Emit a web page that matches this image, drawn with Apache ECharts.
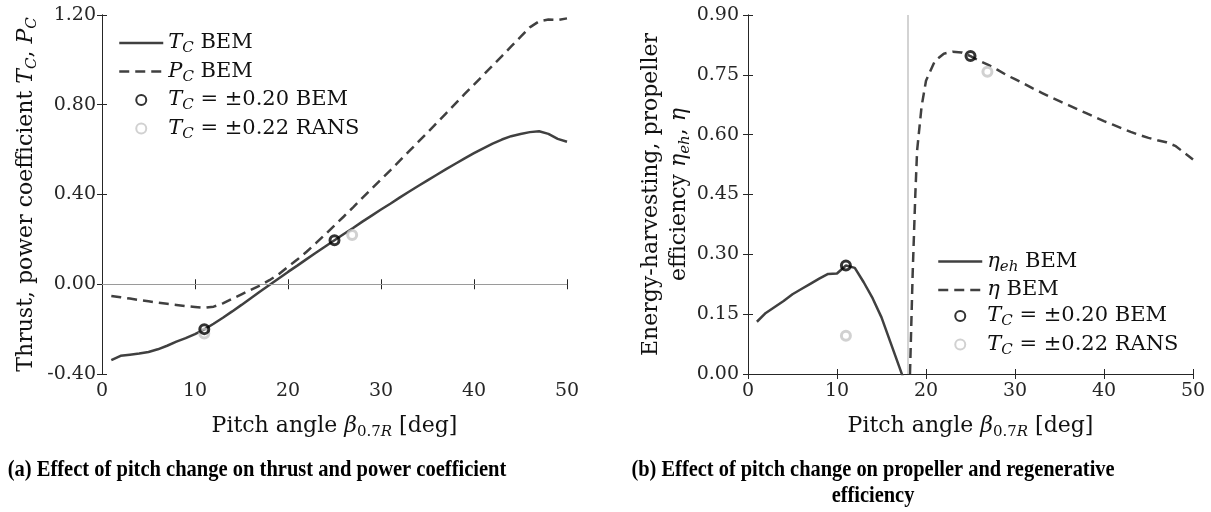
<!DOCTYPE html>
<html><head><meta charset="utf-8">
<script src="https://cdn.jsdelivr.net/npm/echarts@6/dist/echarts.min.js"></script>
<style>html,body{margin:0;padding:0;background:#fff}#c{width:1211px;height:512px}</style>
</head><body><div id="c"></div>
<script>
// ---------- data ----------
const pitchA = [1,2,3,4,5,6,7,8,9,10,11,12,13,14,15,16,17,18,19,20,21,22,23,24,25,26,27,28,29,30,31,32,33,34,35,36,37,38,39,40,41,42,43,44,45,46,47,48,49,50];
const tcBEM = [-0.338,-0.319,-0.314,-0.309,-0.302,-0.290,-0.274,-0.256,-0.240,-0.222,-0.201,-0.176,-0.149,-0.121,-0.092,-0.062,-0.032,-0.003,0.026,0.055,0.083,0.112,0.140,0.168,0.196,0.224,0.251,0.279,0.306,0.333,0.359,0.386,0.412,0.438,0.463,0.488,0.513,0.537,0.561,0.584,0.606,0.627,0.645,0.660,0.670,0.678,0.682,0.670,0.648,0.635];
const pcBEM = [-0.052,-0.058,-0.064,-0.070,-0.076,-0.082,-0.087,-0.092,-0.097,-0.101,-0.105,-0.100,-0.085,-0.065,-0.045,-0.025,-0.005,0.018,0.045,0.078,0.110,0.145,0.183,0.222,0.262,0.302,0.343,0.385,0.426,0.467,0.508,0.550,0.592,0.634,0.676,0.719,0.762,0.805,0.848,0.890,0.932,0.975,1.017,1.060,1.102,1.145,1.172,1.180,1.178,1.185];
const markA_BEM_x = [11, 25];
const markA_BEM_y = [-0.200, 0.196];
const markA_RANS_x = [11, 26.9];
const markA_RANS_y = [-0.220, 0.219];

const pitchEh = [1,2,3,4,5,6,7,8,9,10,11,12,13,14,15,16,17,18];
const etaEh = [0.131,0.153,0.168,0.183,0.200,0.213,0.226,0.239,0.251,0.252,0.272,0.266,0.230,0.190,0.142,0.080,0.018,-0.045];
const pitchEta = [18.2,18.5,18.8,19,19.5,20,21,22,23,24,25,26,27,28,29,30,31,32,33,34,35,36,37,38,39,40,41,42,43,44,45,46,47,48,49,50];
const eta = [0.0,0.25,0.45,0.56,0.67,0.735,0.785,0.803,0.808,0.806,0.797,0.785,0.775,0.763,0.750,0.739,0.728,0.716,0.705,0.694,0.684,0.674,0.664,0.654,0.644,0.634,0.625,0.616,0.607,0.599,0.592,0.586,0.581,0.572,0.555,0.538];
const markB_BEM_x = [11, 25];
const markB_BEM_y = [0.272, 0.797];
const markB_RANS_x = [11, 26.9];
const markB_RANS_y = [0.096, 0.758];

const xTicks = {min: 0, max: 50, interval: 10};
const yTicksA = {min: -0.4, max: 1.2, interval: 0.4};
const yTicksB = {min: 0, max: 0.9, interval: 0.15};
const zeroLineA = 0;
const vLineB = 18;

// ---------- style ----------
const FONT = 'DejaVu Serif';
const LINE = '#404040';
const AX = '#262626';
const zip = (xs, ys) => xs.map((x, i) => [x, ys[i]]);

function rich(fs, L) {
  const Ls = Math.round(fs * 0.75);
  return {
    r: {fontFamily: FONT, fontSize: fs, lineHeight: L, color: '#111'},
    i: {fontFamily: FONT, fontStyle: 'italic', fontSize: fs, lineHeight: L, color: '#111'},
    s: {fontFamily: FONT, fontStyle: 'italic', fontSize: Math.round(fs * 0.7), lineHeight: Ls, verticalAlign: 'bottom', color: '#111'},
    sr: {fontFamily: FONT, fontSize: Math.round(fs * 0.7), lineHeight: Ls, verticalAlign: 'bottom', color: '#111'}
  };
}

const legendText = {
  tcA: '{i|T}{s|C}{r| BEM}',
  pcA: '{i|P}{s|C}{r| BEM}',
  bemA: '{i|T}{s|C}{r| = ±0.20 BEM}',
  ransA: '{i|T}{s|C}{r| = ±0.22 RANS}',
  ehB: '{i|η}{s|eh}{r| BEM}',
  etaB: '{i|η}{r| BEM}',
  bemB: '{i|T}{s|C}{r| = ±0.20 BEM}',
  ransB: '{i|T}{s|C}{r| = ±0.22 RANS}'
};

function xAxisFor(g) {
  return [{
    gridIndex: g, type: 'value', min: xTicks.min, max: xTicks.max, interval: xTicks.interval, position: 'bottom',
    axisLine: {lineStyle: {color: AX, width: 1}},
    axisTick: {inside: true, length: 5, lineStyle: {color: AX}},
    axisLabel: {margin: 8, fontFamily: FONT, fontSize: 19, color: AX},
    splitLine: {show: false},
    name: '{r|Pitch angle }{i|β}{sr|0.7}{s|R}{r| [deg]}',
    nameLocation: 'middle', nameGap: 38,
    nameTextStyle: {rich: rich(22, 28)}
  }, {
    gridIndex: g, type: 'value', min: xTicks.min, max: xTicks.max, interval: xTicks.interval, position: 'top',
    axisLine: {lineStyle: {color: AX, width: 1}},
    axisTick: {inside: true, length: 5, lineStyle: {color: AX}},
    axisLabel: {show: false}, splitLine: {show: false}
  }];
}
function yAxisFor(g, t, name, gap, margin) {
  return [{
    gridIndex: g, type: 'value', min: t.min, max: t.max, interval: t.interval, position: 'left',
    axisLine: {lineStyle: {color: AX, width: 1}},
    axisTick: {inside: true, length: 5, lineStyle: {color: AX}},
    axisLabel: {margin: margin, fontFamily: FONT, fontSize: 19, color: AX, formatter: v => v.toFixed(2)},
    splitLine: {show: false},
    name: name, nameLocation: 'middle', nameGap: gap,
    nameTextStyle: {rich: rich(22, 28), align: 'center'}
  }, {
    gridIndex: g, type: 'value', min: t.min, max: t.max, interval: t.interval, position: 'right',
    axisLine: {lineStyle: {color: AX, width: 1}},
    axisTick: {inside: true, length: 5, lineStyle: {color: AX}},
    axisLabel: {show: false}, splitLine: {show: false}
  }];
}

const markerStyle = (c) => ({color: 'rgba(255,255,255,0)', borderColor: c, borderWidth: 3});
const lineLegend = (n) => ({name: n, itemStyle: {opacity: 0}});

const option = {
  animation: false,
  backgroundColor: '#fff',
  grid: [
    {left: 102, top: 15, width: 465, height: 359},
    {left: 748, top: 15, width: 445, height: 359}
  ],
  xAxis: [...xAxisFor(0), ...xAxisFor(1)],
  yAxis: [
    ...yAxisFor(0, yTicksA, '{r|Thrust, power coefficient }{i|T}{s|C}{r|, }{i|P}{s|C}', 62, 6),
    ...yAxisFor(1, yTicksB, '{r|Energy-harvesting, propeller}\n{r|efficiency }{i|η}{s|eh}{r|, }{i|η}', 55, 9)
  ],
  legend: [
    {
      data: [lineLegend('tcA'), lineLegend('pcA'), 'bemA', 'ransA'], orient: 'vertical', left: 118, top: 32.5, padding: 0,
      itemWidth: 44, itemHeight: 10, itemGap: 5,
      lineStyle: {width: 2.5},
      formatter: n => legendText[n],
      textStyle: {rich: rich(21, 26)}, selectedMode: false
    },
    {
      data: [lineLegend('ehB'), lineLegend('etaB'), 'bemB', 'ransB'], orient: 'vertical', left: 937, top: 251, padding: 0,
      itemWidth: 44, itemHeight: 10, itemGap: 5,
      lineStyle: {width: 2.5},
      formatter: n => legendText[n],
      textStyle: {rich: rich(21, 26)}, selectedMode: false
    }
  ],
  series: [
    {name: 'tcA', type: 'line', xAxisIndex: 0, yAxisIndex: 0, data: zip(pitchA, tcBEM), symbol: 'none',
      lineStyle: {color: LINE, width: 2.5}, itemStyle: {color: LINE},
      markLine: {silent: true, symbol: ['none', 'none'], label: {show: false},
        lineStyle: {color: '#9a9a9a', width: 1, type: 'solid'}, data: [{yAxis: zeroLineA}]}},
    {name: 'pcA', type: 'line', xAxisIndex: 0, yAxisIndex: 0, data: zip(pitchA, pcBEM), symbol: 'none',
      lineStyle: {color: LINE, width: 2.5, type: [10, 6]}, itemStyle: {color: LINE}},
    {name: 'bemA', type: 'scatter', xAxisIndex: 0, yAxisIndex: 0, data: zip(markA_BEM_x, markA_BEM_y),
      symbol: 'circle', symbolSize: 9, itemStyle: markerStyle('#000'), z: 5},
    {name: 'ransA', type: 'scatter', xAxisIndex: 0, yAxisIndex: 0, data: zip(markA_RANS_x, markA_RANS_y),
      symbol: 'circle', symbolSize: 9, itemStyle: markerStyle('#c6c6c6'), z: 4},

    {name: 'ehB', type: 'line', xAxisIndex: 2, yAxisIndex: 2, data: zip(pitchEh, etaEh), symbol: 'none',
      lineStyle: {color: LINE, width: 2.5}, itemStyle: {color: LINE},
      markLine: {silent: true, symbol: ['none', 'none'], label: {show: false},
        lineStyle: {color: '#c4c4c4', width: 1.5, type: 'solid'}, data: [{xAxis: vLineB}]}},
    {name: 'etaB', type: 'line', xAxisIndex: 2, yAxisIndex: 2, data: zip(pitchEta, eta), symbol: 'none',
      lineStyle: {color: LINE, width: 2.5, type: [10, 6]}, itemStyle: {color: LINE}},
    {name: 'bemB', type: 'scatter', xAxisIndex: 2, yAxisIndex: 2, data: zip(markB_BEM_x, markB_BEM_y),
      symbol: 'circle', symbolSize: 9, itemStyle: markerStyle('#000'), z: 5},
    {name: 'ransB', type: 'scatter', xAxisIndex: 2, yAxisIndex: 2, data: zip(markB_RANS_x, markB_RANS_y),
      symbol: 'circle', symbolSize: 9, itemStyle: markerStyle('#c6c6c6'), z: 4}
  ],
  graphic: [
    {type: 'text', x: 257, y: 470, scaleX: 0.855,
      style: {text: '(a) Effect of pitch change on thrust and power coefficient',
        font: 'bold 24px "Liberation Serif"', fill: '#000', textAlign: 'center', textVerticalAlign: 'middle'}},
    {type: 'text', x: 873, y: 470, scaleX: 0.85,
      style: {text: '(b) Effect of pitch change on propeller and regenerative',
        font: 'bold 24px "Liberation Serif"', fill: '#000', textAlign: 'center', textVerticalAlign: 'middle'}},
    {type: 'text', x: 873, y: 496, scaleX: 0.85,
      style: {text: 'efficiency',
        font: 'bold 24px "Liberation Serif"', fill: '#000', textAlign: 'center', textVerticalAlign: 'middle'}}
  ]
};
const chart = echarts.init(document.getElementById('c'), null, {renderer: 'canvas'});
chart.setOption(option);
</script></body></html>
